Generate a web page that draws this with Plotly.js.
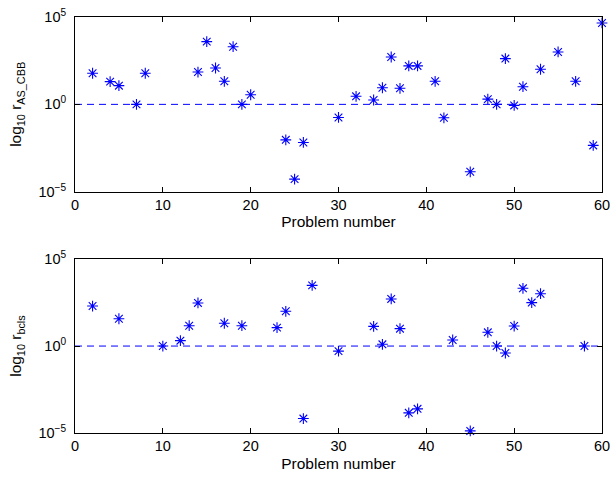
<!DOCTYPE html>
<html><head><meta charset="utf-8">
<script src="https://cdn.plot.ly/plotly-3.0.1.min.js"></script>
<style>body{margin:0;padding:0;background:#fff}#chart{width:611px;height:480px}</style>
</head><body><div id="chart"></div>
<script>
// Top panel: log10 r_AS_CBB
const probTop = [2,4,5,7,8,14,15,16,17,18,19,20,24,25,26,30,32,34,35,36,37,38,39,41,42,45,47,48,49,50,51,53,55,57,59,60];
const expTop  = [1.78,1.30,1.07,0,1.78,1.85,3.59,2.08,1.32,3.30,0,0.55,-2.03,-4.28,-2.18,-0.75,0.46,0.25,0.95,2.71,0.92,2.20,2.20,1.32,-0.77,-3.86,0.30,0,2.62,-0.06,1.01,2.01,3.0,1.32,-2.35,4.66];
// Bottom panel: log10 r_bcls
const probBot = [2,5,10,12,13,14,17,19,23,24,26,27,30,34,35,36,37,38,39,43,45,47,48,49,50,51,52,53,58];
const expBot  = [2.30,1.57,0,0.31,1.17,2.48,1.31,1.17,1.06,2.0,-4.17,3.49,-0.29,1.13,0.10,2.71,1.0,-3.84,-3.61,0.35,-4.88,0.79,0,-0.40,1.15,3.32,2.50,3.01,0];
const refX = [0,60];
const refY = [1,1];
const xTicks = [0,10,20,30,40,50,60];
const yTickVals = [1e-5,1,1e5];
const yTickText = ['10<sup>−5</sup>','10<sup>0</sup>','10<sup>5</sup>'];

const valsTop = expTop.map(e => Math.pow(10,e));
const valsBot = expBot.map(e => Math.pow(10,e));

const blue = 'rgb(0,0,255)';
const mk = {symbol:'asterisk-open', size:9, color:blue, line:{color:blue, width:1.1}};

const traces = [
  {x:refX, y:refY, mode:'lines', line:{color:blue, width:1, dash:'7px,5px'}, xaxis:'x', yaxis:'y', hoverinfo:'skip'},
  {x:probTop, y:valsTop, mode:'markers', marker:mk, xaxis:'x', yaxis:'y', cliponaxis:false},
  {x:refX, y:refY, mode:'lines', line:{color:blue, width:1, dash:'7px,5px'}, xaxis:'x2', yaxis:'y2', hoverinfo:'skip'},
  {x:probBot, y:valsBot, mode:'markers', marker:mk, xaxis:'x2', yaxis:'y2', cliponaxis:false}
];

const fam = 'Liberation Sans, Arial, sans-serif';
const tickFont = {family:fam, size:14.5, color:'#000'};
const titleFont = {family:fam, size:15.5, color:'#000'};
function xax(anchor){
  return {domain:[0,1], anchor:anchor, range:[0,60], tickvals:xTicks, ticks:'inside', ticklen:5, tickcolor:'#000',
    showline:true, linecolor:'#000', linewidth:1, mirror:'ticks', showgrid:false, zeroline:false,
    tickfont:tickFont, title:{text:'Problem number', font:titleFont, standoff:4}};
}
function yax(dom, anchor, title){
  return {domain:dom, anchor:anchor, type:'log', range:[-5,5], tickvals:yTickVals, ticktext:yTickText,
    ticks:'inside', ticklen:5, tickcolor:'#000', showline:true, linecolor:'#000', linewidth:1, mirror:'ticks',
    ticklabelstandoff:5,
    showgrid:false, zeroline:false, tickfont:tickFont, title:{text:title, font:titleFont, standoff:12}};
}
const layout = {
  width:611, height:480, paper_bgcolor:'#fff', plot_bgcolor:'#fff', showlegend:false,
  margin:{l:75, r:9, t:17, b:47}, font:tickFont,
  xaxis: xax('y'),
  yaxis: yax([0.58,1],'x','log<sub>10</sub> r<sub>AS_CBB</sub>'),
  xaxis2: xax('y2'),
  yaxis2: yax([0,0.418],'x2','log<sub>10</sub> r<sub>bcls</sub>')
};
Plotly.newPlot('chart', traces, layout, {staticPlot:true, displayModeBar:false});
</script></body></html>
